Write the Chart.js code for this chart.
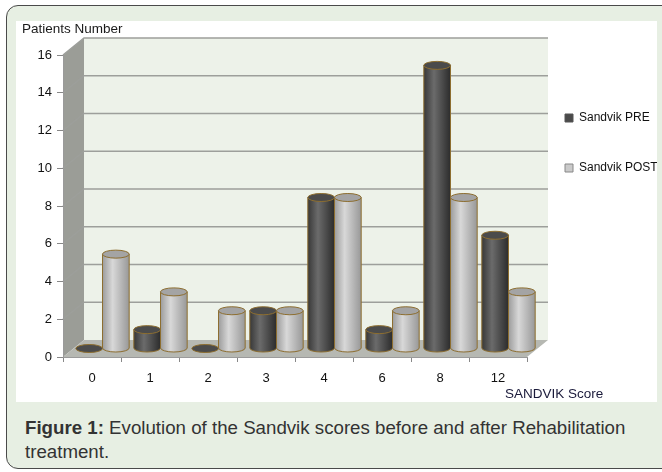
<!DOCTYPE html>
<html>
<head>
<meta charset="utf-8">
<script src="https://cdn.jsdelivr.net/npm/chart.js@4.4.1/dist/chart.umd.min.js"></script>
<style>
  html, body { margin: 0; padding: 0; background: #fff; width: 662px; height: 472px; overflow: hidden; }
  #card {
    position: absolute; left: 6px; top: 5px; width: 700px; height: 462px;
    background: #e7efe3; border: 1.5px solid #4a4a4a; border-radius: 12px;
  }
  #box {
    position: absolute; left: 16px; top: 21px; width: 641px; height: 381px; background: #fff;
  }
  #caption {
    position: absolute; left: 25px; top: 416px; width: 632px;
    font-family: Arial, "Liberation Sans", sans-serif; font-size: 18.7px; line-height: 24px; color: #333;
  }
</style>
</head>
<body>
<div id="card"></div>
<div id="box"><canvas id="chart" width="641" height="381"></canvas></div>
<div id="caption"><b>Figure 1:</b> Evolution of the Sandvik scores before and after Rehabilitation treatment.</div>
<script>
// données
const scores = ['0', '1', '2', '3', '4', '6', '8', '12'];
const sandvikPre = [0, 1, 0, 2, 8, 1, 15, 6];
const sandvikPost = [5, 3, 2, 2, 8, 2, 8, 3];
const yTicks = [0, 2, 4, 6, 8, 10, 12, 14, 16];

// profondeur de l'effet 3D
const DX = 21, DY = -17;

const bodyColors = [
  ['#383838', '#6b6b6b', '#2c2c2c'],
  ['#9c9c9c', '#d8d8d8', '#989898']
];
const topColors = ['#4b4b4b', '#a4a4a4'];

// murs, sol et lignes de grille
const walls = {
  id: 'walls',
  beforeDraw(chart) {
    const { ctx, chartArea: a, scales } = chart;
    const L = a.left, R = a.right, T = a.top, B = a.bottom;
    ctx.save();
    // mur du fond
    ctx.fillStyle = '#edf2e9';
    ctx.fillRect(L + DX, T + DY, R - L, B - T);
    // mur gauche
    ctx.fillStyle = '#9b9d97';
    ctx.beginPath();
    ctx.moveTo(L, T); ctx.lineTo(L + DX, T + DY); ctx.lineTo(L + DX, B + DY); ctx.lineTo(L, B);
    ctx.closePath(); ctx.fill();
    // sol
    ctx.fillStyle = '#b6b8b2';
    ctx.beginPath();
    ctx.moveTo(L, B); ctx.lineTo(L + DX, B + DY); ctx.lineTo(R + DX, B + DY); ctx.lineTo(R, B);
    ctx.closePath(); ctx.fill();
    // grille
    ctx.strokeStyle = '#9d9f9b';
    ctx.lineWidth = 1.5;
    yTicks.slice(1).forEach(v => {
      const y = scales.y.getPixelForValue(v);
      ctx.beginPath();
      ctx.moveTo(L, y); ctx.lineTo(L + DX, y + DY); ctx.lineTo(R + DX, y + DY);
      ctx.stroke();
    });
    ctx.restore();
  },
  afterDraw(chart) {
    const { ctx, chartArea: a } = chart;
    ctx.save();
    ctx.font = '13.5px Arial, "Liberation Sans", sans-serif';
    ctx.fillStyle = '#1a1a3a';
    ctx.textBaseline = 'middle';
    ctx.fillText('SANDVIK Score', a.right - 22, a.bottom + 37);
    ctx.restore();
  }
};

// barres en cylindres
const cylinders = {
  id: 'cylinders',
  beforeDatasetsDraw(chart) {
    const ctx = chart.ctx;
    const metas = [chart.getDatasetMeta(0), chart.getDatasetMeta(1)];
    ctx.save();
    ctx.strokeStyle = '#8d6e30';
    ctx.lineWidth = 1;
    for (let i = 0; i < scores.length; i++) {
      metas.forEach((meta, d) => {
        const p = meta.data[i].getProps(['x', 'y', 'base', 'width'], true);
        const cx = p.x + DX / 2, top = p.y + DY / 2, base = p.base + DY / 2;
        const rx = p.width / 2, ry = 4;
        if (base - top > 0.5) {
          const g = ctx.createLinearGradient(cx - rx, 0, cx + rx, 0);
          g.addColorStop(0, bodyColors[d][0]);
          g.addColorStop(0.38, bodyColors[d][1]);
          g.addColorStop(1, bodyColors[d][2]);
          ctx.fillStyle = g;
          ctx.beginPath();
          ctx.moveTo(cx - rx, top);
          ctx.lineTo(cx - rx, base);
          ctx.ellipse(cx, base, rx, ry, 0, Math.PI, 0, true);
          ctx.lineTo(cx + rx, top);
          ctx.closePath();
          ctx.fill();
          ctx.stroke();
        }
        ctx.fillStyle = topColors[d];
        ctx.beginPath();
        ctx.ellipse(cx, top, rx, ry, 0, 0, Math.PI * 2);
        ctx.fill();
        ctx.stroke();
      });
    }
    ctx.restore();
    return false;
  }
};

const family = 'Arial, "Liberation Sans", sans-serif';
const tickFont = { family, size: 13 };

new Chart(document.getElementById('chart'), {
  type: 'bar',
  data: {
    labels: scores,
    datasets: [
      { label: 'Sandvik PRE', data: sandvikPre, backgroundColor: '#4a4a4a', borderColor: '#555', borderWidth: 1 },
      { label: 'Sandvik POST', data: sandvikPost, backgroundColor: '#cacaca', borderColor: '#888', borderWidth: 1 }
    ]
  },
  options: {
    responsive: false,
    animation: false,
    layout: { padding: { left: 6, right: 0, top: 0, bottom: 0 }, autoPadding: false },
    datasets: { bar: { barPercentage: 1, categoryPercentage: 0.92 } },
    scales: {
      x: {
        grid: { offset: true, drawOnChartArea: false, drawTicks: true, tickLength: 5, color: '#888' },
        border: { display: true, color: '#9a9a9a' },
        ticks: { font: tickFont, color: '#111', padding: 9 },
        afterFit: s => { s.height = 45; }
      },
      y: {
        min: 0, max: 16,
        afterBuildTicks: s => { s.ticks = yTicks.map(v => ({ value: v })); },
        grid: { drawOnChartArea: false, drawTicks: true, tickLength: 6, color: '#888' },
        border: { display: true, color: '#9a9a9a' },
        ticks: { font: tickFont, color: '#111', padding: 5 },
        afterFit: s => { s.width = 41; }
      }
    },
    plugins: {
      title: {
        display: true, text: 'Patients Number', align: 'start',
        font: { family, size: 13.5, weight: 'normal' }, color: '#1a1a1a',
        padding: { top: 0, bottom: 17.8 }
      },
      legend: {
        position: 'right', align: 'start', maxWidth: 130,
        title: { display: true, text: ' ', font: { size: 12 }, padding: 19.3 },
        labels: { font: { family, size: 12 }, color: '#111', boxWidth: 8, boxHeight: 8, padding: 38 }
      },
      tooltip: { enabled: false }
    }
  },
  plugins: [walls, cylinders]
});
</script>
</body>
</html>
